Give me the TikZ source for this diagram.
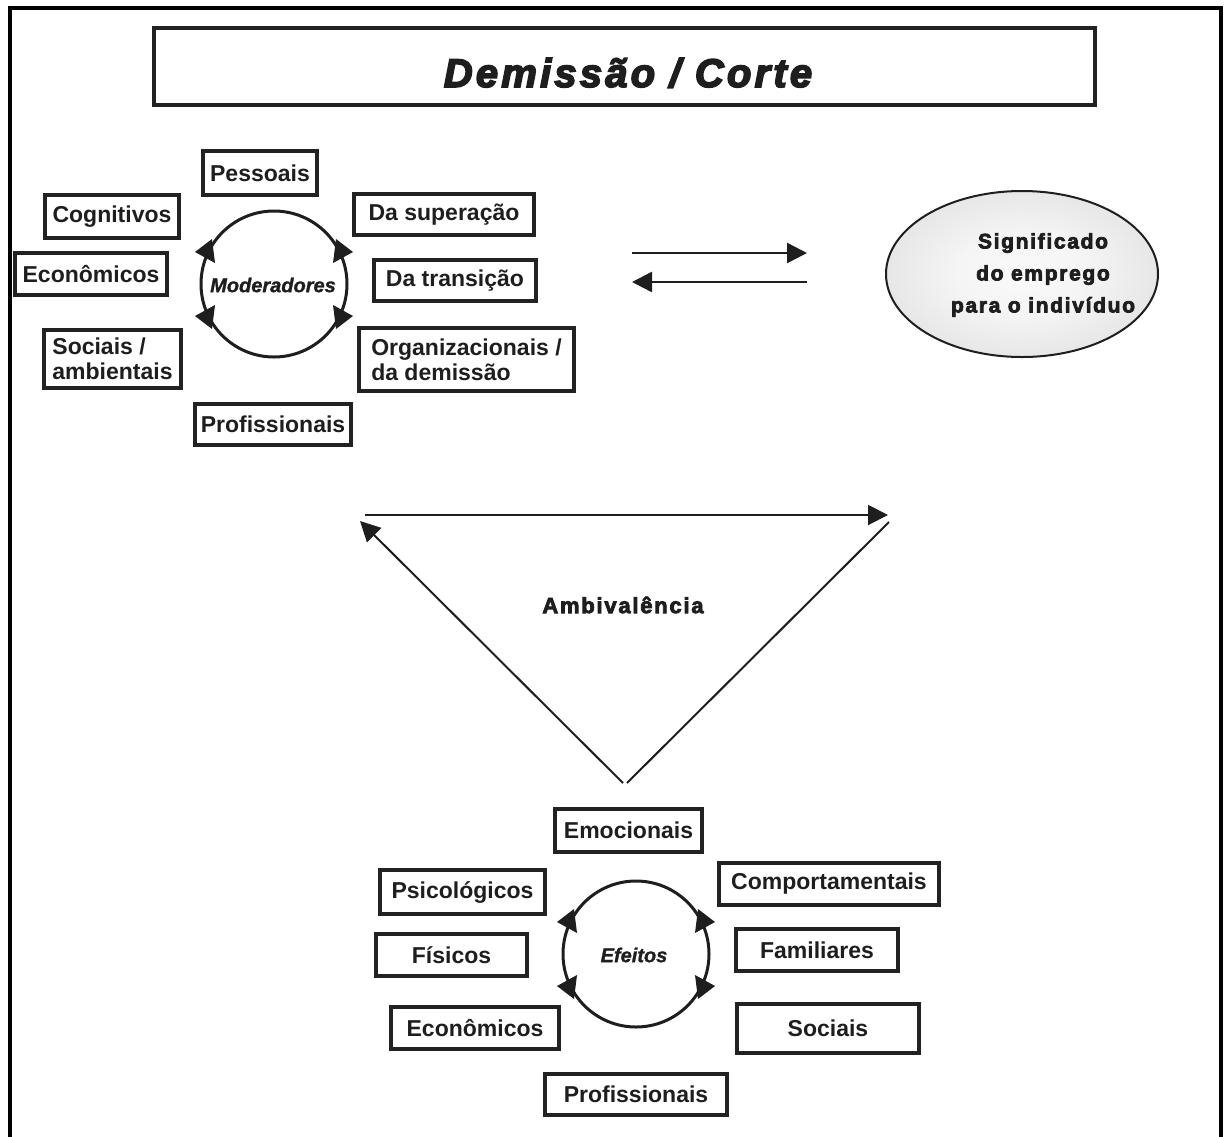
\documentclass[tikz,border=0pt]{standalone}
\usepackage{fontspec}
\setmainfont{Liberation Sans}
\newfontfamily\titlefam{Liberation Sans}[LetterSpace=8,BoldItalicFeatures={FakeBold=4}]
\newfontfamily\widefam{Liberation Sans}[LetterSpace=8,BoldFeatures={FakeBold=3.5}]
\newfontfamily\cycfam{Liberation Sans}[BoldItalicFeatures={FakeBold=1.2}]
\usetikzlibrary{arrows.meta,shapes.geometric}

\definecolor{ink}{HTML}{1E1E1E}
\definecolor{frameink}{HTML}{222222}

\pgfdeclareradialshading{ovalshade}{\pgfpoint{0bp}{0bp}}{%
  color(0bp)=(gray!4); color(12bp)=(gray!8); color(32bp)=(gray!25);
  color(50bp)=(gray!52); color(70bp)=(gray!52)}

% filled heads around a cycle circle
\newcommand\cyclearrows[1]{%
  \foreach \sx/\sy in {1/1,1/-1,-1/1,-1/-1}
    \fill[ink,shift={(#1)}] (\sx*79,\sy*32) -- (\sx*62,\sy*45) -- (\sx*59,\sy*21) -- cycle;}

\begin{document}
\begin{tikzpicture}[x=1pt,y=-1pt,
  tbox/.style={draw=frameink,line width=4pt,fill=white,inner sep=0pt,
    text=ink,font=\fontsize{23}{25}\selectfont\bfseries},
  cyc/.style={circle,draw=ink,line width=3pt,inner sep=0pt,minimum size=146pt},
  cyctext/.style={text=ink,font=\cycfam\fontsize{20}{22}\selectfont\bfseries\itshape},
  bigarrow/.style={draw=ink,line width=2.5pt,-{Triangle[length=20pt,width=20pt]}},
  plainline/.style={draw=ink,line width=2.5pt}]
\useasboundingbox (0,0) rectangle (1224,1136);

% outer frame (open at the bottom)
\draw[line width=4pt,black,line join=miter] (10,1150) -- (10,8) -- (1221,8) -- (1221,1150);

% title
\node[draw=frameink,line width=4.5pt,inner sep=0pt,minimum width=941pt,minimum height=77pt]
  (titlebox) at (624.5,66.5) {};
\node[anchor=base,text=ink,font=\titlefam\fontsize{40}{42}\selectfont\bfseries\itshape]
  (titletext) at (628,87) {Demissão / Corte};

% moderators cycle
\node[cyc] (modcirc) at (274,284) {};
\node[cyctext] (modtext) at (273,285) {Moderadores};
\cyclearrows{modcirc.center}

\node[tbox,minimum width=114pt,minimum height=44pt] (pessoais) at (260,173) {Pessoais};
\node[tbox,minimum width=134pt,minimum height=43pt] (cognit) at (112,216.5) {Cognitivos};
\node[tbox,minimum width=152pt,minimum height=42pt] (econ1) at (91,274) {Econômicos};
\node[tbox,minimum width=137pt,minimum height=58pt,align=left] (sociais1) at (112.5,359) {Sociais /\\ambientais};
\node[tbox,minimum width=156pt,minimum height=41pt] (prof1) at (273,424.5) {Profissionais};
\node[tbox,minimum width=180pt,minimum height=41pt] (superacao) at (444,214.5) {Da superação};
\node[tbox,minimum width=162pt,minimum height=41pt] (transicao) at (455,280.5) {Da transição};
\node[tbox,minimum width=215pt,minimum height=63pt,align=left] (organiz) at (466.5,359.5) {Organizacionais /\\da demissão};

% two-way link to the meaning of employment
\coordinate (fwdA) at (632,253);
\coordinate (fwdB) at (807,253);
\coordinate (backA) at (807,282);
\coordinate (backB) at (632,282);
\draw[bigarrow] (fwdA) -- (fwdB);
\draw[bigarrow] (backA) -- (backB);

\node[ellipse,draw=ink,line width=2pt,minimum width=272pt,minimum height=166pt,
  shading=ovalshade] (signif) at (1022,274) {};
\node[align=center,text=ink,font=\widefam\fontsize{21}{32}\selectfont\bfseries]
  (signiftext) at (1043,275) {Significado\\do emprego\\para o indivíduo};

% ambivalence triangle
\coordinate (topL) at (365,515);
\coordinate (topR) at (888,515);
\coordinate (leftBase) at (623,783);
\coordinate (leftTip) at (360,521);
\coordinate (rightBase) at (627,783);
\coordinate (rightTop) at (889,522);
\draw[bigarrow,line width=2pt] (topL) -- (topR);
\draw[bigarrow,line width=2pt] (leftBase) -- (leftTip);
\draw[plainline,line width=2pt] (rightBase) -- (rightTop);
\node[text=ink,font=\widefam\fontsize{22}{24}\selectfont\bfseries] (ambiv) at (623,605) {Ambivalência};

% effects cycle
\node[cyc] (efcirc) at (636,954) {};
\node[cyctext] (eftext) at (634,955) {Efeitos};
\cyclearrows{efcirc.center}

\node[tbox,minimum width=147pt,minimum height=43pt] (emoc) at (628.5,830.5) {Emocionais};
\node[tbox,minimum width=165pt,minimum height=44pt] (psico) at (462.5,892) {Psicológicos};
\node[tbox,minimum width=220pt,minimum height=42pt] (comport) at (829,884) {Comportamentais};
\node[tbox,minimum width=151pt,minimum height=42pt] (fisicos) at (451.5,955) {Físicos};
\node[tbox,minimum width=162pt,minimum height=42pt] (famil) at (817,950) {Familiares};
\node[tbox,minimum width=168pt,minimum height=42pt] (econ2) at (475,1028) {Econômicos};
\node[tbox,minimum width=182pt,minimum height=49pt] (sociais2) at (828,1028.5) {Sociais};
\node[tbox,minimum width=182pt,minimum height=41pt] (prof2) at (636,1094.5) {Profissionais};
\end{tikzpicture}
\end{document}
